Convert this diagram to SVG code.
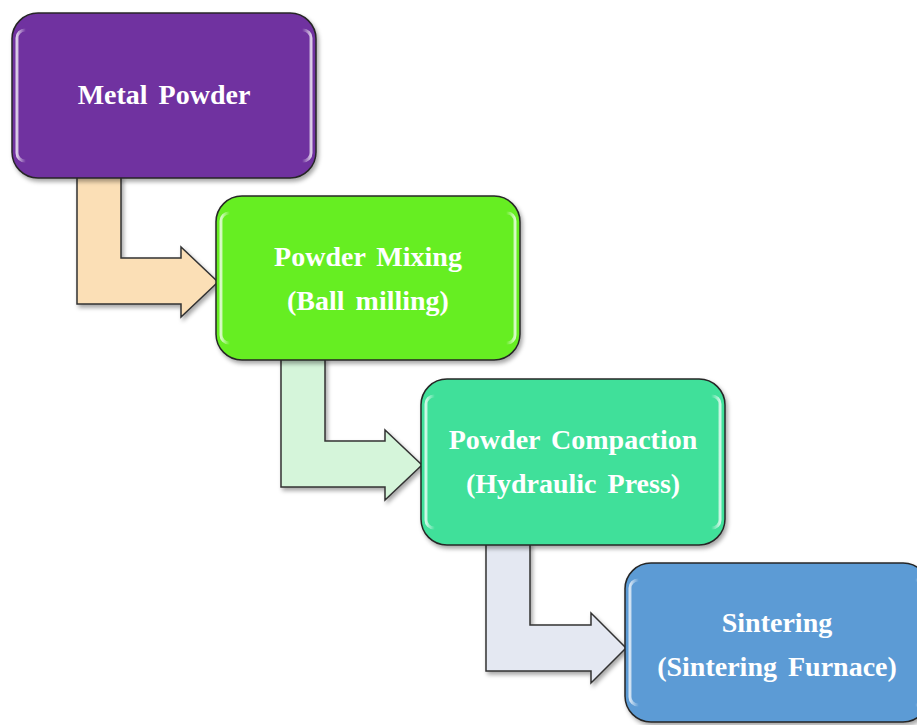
<svg xmlns="http://www.w3.org/2000/svg" width="917" height="725" viewBox="0 0 917 725">
<defs>
<filter id="sh" x="-10%" y="-10%" width="125%" height="125%">
<feDropShadow dx="2" dy="3" stdDeviation="2" flood-color="#000" flood-opacity="0.35"/>
</filter>
<linearGradient id="gloss" x1="0" y1="0" x2="1" y2="0">
<stop offset="0" stop-color="#fff" stop-opacity="0.75"/>
<stop offset="0.03" stop-color="#fff" stop-opacity="0"/>
<stop offset="0.97" stop-color="#fff" stop-opacity="0"/>
<stop offset="1" stop-color="#fff" stop-opacity="0.75"/>
</linearGradient>
</defs>
<style>
.box{stroke:#262626;stroke-width:1.5;filter:url(#sh)}
.hl{fill:none;stroke:url(#gloss);stroke-width:3}
.arrow{stroke:#333;stroke-width:1.5;stroke-linejoin:miter;filter:url(#sh)}
.lbl{font-family:"Liberation Serif","Times New Roman",serif;font-weight:bold;font-size:28px;fill:#fff;text-anchor:middle;word-spacing:4px}
</style>
<rect width="917" height="725" fill="#fff"/>
<g id="connectors">
<path class="arrow" fill="#FBDFB6" d="M77,176 L121,176 L121,258 L181,258 L181,247 L218,282 L181,317 L181,304 L77,304 Z"/>
<path class="arrow" fill="#D5F5DA" d="M281,358 L325,358 L325,441 L385,441 L385,430 L422,465 L385,500 L385,487 L281,487 Z"/>
<path class="arrow" fill="#E4E8F2" d="M486,543 L530,543 L530,625 L591,625 L591,613 L626,648 L591,683 L591,671 L486,671 Z"/>
</g>
<g id="node-metal-powder">
<rect class="box" x="12" y="13" width="304" height="165" rx="26" fill="#7030A0"/>
<rect class="hl" x="17" y="30" width="294" height="131" rx="8"/>
<text class="lbl" x="164" y="104">Metal Powder</text>
</g>
<g id="node-powder-mixing">
<rect class="box" x="216" y="196" width="304" height="164" rx="26" fill="#66EE22"/>
<rect class="hl" x="221" y="213" width="294" height="130" rx="8"/>
<text class="lbl" x="368" y="266">Powder Mixing</text>
<text class="lbl" x="368" y="310">(Ball milling)</text>
</g>
<g id="node-powder-compaction">
<rect class="box" x="421" y="379" width="304" height="166" rx="26" fill="#40E09A"/>
<rect class="hl" x="426" y="396" width="294" height="132" rx="8"/>
<text class="lbl" x="573" y="449">Powder Compaction</text>
<text class="lbl" x="573" y="493">(Hydraulic Press)</text>
</g>
<g id="node-sintering">
<rect class="box" x="625" y="563" width="304" height="159" rx="26" fill="#5B9BD5"/>
<rect class="hl" x="630" y="580" width="294" height="125" rx="8"/>
<text class="lbl" x="777" y="632">Sintering</text>
<text class="lbl" x="777" y="676">(Sintering Furnace)</text>
</g>
</svg>
